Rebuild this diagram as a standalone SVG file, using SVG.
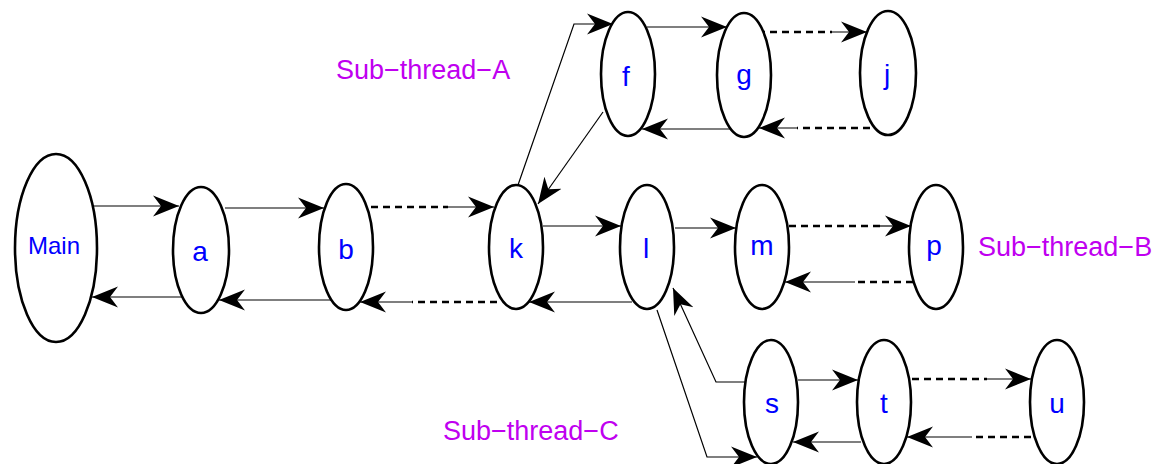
<svg xmlns="http://www.w3.org/2000/svg" width="1156" height="464" viewBox="0 0 1156 464">
  <style>
    .node ellipse { fill: #ffffff; stroke: #000000; stroke-width: 2.6; }
    .node text { font-family: "Liberation Sans", Arial, sans-serif; font-size: 28px; fill: #0000ff; text-anchor: middle; }
    .label { font-family: "Liberation Sans", Arial, sans-serif; font-size: 27px; fill: #c000f0; }
    .tail { fill: none; stroke: #000000; stroke-width: 1.2; marker-end: url(#head); }
    .dash { fill: none; stroke: #000000; stroke-width: 2.5; stroke-dasharray: 7 5; }
  </style>
  <defs>
    <!-- filled, indented arrowhead shared by every connector -->
    <marker id="head" markerUnits="userSpaceOnUse" viewBox="0 -11 27 22" refX="26" refY="0" markerWidth="27" markerHeight="22" orient="auto">
      <path d="M0,-10.5 L26,0 L0,10.5 L8,0 Z" fill="#000000"/>
    </marker>
  </defs>

  <rect width="1156" height="464" fill="#ffffff"/>

  <!-- connectors -->
  <g id="connectors">
    <!-- main thread -->
    <path class="tail" d="M93,206 H179"/>
    <path class="tail" d="M183,297 H92"/>
    <path class="tail" d="M225,208 H324"/>
    <path class="tail" d="M333,300 H219"/>
    <path class="dash" d="M371,207 H448"/>
    <path class="tail" d="M448,207 H494"/>
    <path class="dash" d="M497,302 H412"/>
    <path class="tail" d="M412,302 H360"/>
    <path class="tail" d="M543,226 H621"/>
    <path class="tail" d="M632,302 H529"/>
    <!-- sub-thread A -->
    <path class="tail" d="M518,185 L574,24 H613"/>
    <path class="tail" d="M603,112 L538,204"/>
    <path class="tail" d="M647,27 H727"/>
    <path class="tail" d="M733,129 H642"/>
    <path class="dash" d="M758,32 H832"/>
    <path class="tail" d="M832,32 H867"/>
    <path class="dash" d="M870,128 H797"/>
    <path class="tail" d="M797,128 H759"/>
    <!-- sub-thread B -->
    <path class="tail" d="M675,228 H736"/>
    <path class="dash" d="M789,226 H880"/>
    <path class="tail" d="M880,226 H911"/>
    <path class="dash" d="M913,282 H855"/>
    <path class="tail" d="M855,282 H785"/>
    <!-- sub-thread C -->
    <path class="tail" d="M745,382 H716 L673,288"/>
    <path class="tail" d="M657,310 L707,457 H757"/>
    <path class="tail" d="M798,380 H858"/>
    <path class="tail" d="M861,442 H793"/>
    <path class="dash" d="M912,379 H987"/>
    <path class="tail" d="M987,379 H1031"/>
    <path class="dash" d="M1031,437 H972"/>
    <path class="tail" d="M972,437 H907"/>
  </g>

  <!-- nodes -->
  <g id="node-main" class="node">
    <ellipse cx="56" cy="248" rx="41" ry="94"/>
    <text x="54" y="254" style="font-size:24px">Main</text>
  </g>
  <g id="node-a" class="node">
    <ellipse cx="201" cy="250" rx="28" ry="63"/>
    <text x="200" y="261">a</text>
  </g>
  <g id="node-b" class="node">
    <ellipse cx="346" cy="247" rx="27" ry="63"/>
    <text x="346" y="259">b</text>
  </g>
  <g id="node-k" class="node">
    <ellipse cx="516" cy="247" rx="27" ry="62"/>
    <text x="516" y="258">k</text>
  </g>
  <g id="node-l" class="node">
    <ellipse cx="647" cy="247" rx="27" ry="62"/>
    <text x="646" y="258">l</text>
  </g>
  <g id="node-f" class="node">
    <ellipse cx="628" cy="74" rx="27" ry="62"/>
    <text x="626" y="86">f</text>
  </g>
  <g id="node-g" class="node">
    <ellipse cx="744" cy="75" rx="27" ry="62"/>
    <text x="744" y="84">g</text>
  </g>
  <g id="node-j" class="node">
    <ellipse cx="888" cy="73" rx="28" ry="62"/>
    <text x="887" y="84">j</text>
  </g>
  <g id="node-m" class="node">
    <ellipse cx="762" cy="247" rx="27" ry="62"/>
    <text x="762" y="255">m</text>
  </g>
  <g id="node-p" class="node">
    <ellipse cx="936" cy="247" rx="27" ry="62"/>
    <text x="934" y="255">p</text>
  </g>
  <g id="node-s" class="node">
    <ellipse cx="771" cy="402" rx="27" ry="62"/>
    <text x="772" y="413">s</text>
  </g>
  <g id="node-t" class="node">
    <ellipse cx="884" cy="402" rx="27" ry="62"/>
    <text x="884" y="413">t</text>
  </g>
  <g id="node-u" class="node">
    <ellipse cx="1057" cy="402" rx="27" ry="62"/>
    <text x="1057" y="413">u</text>
  </g>

  <!-- thread labels -->
  <g id="labels">
    <text class="label" x="336" y="79">Sub−thread−A</text>
    <text class="label" x="978" y="256">Sub−thread−B</text>
    <text class="label" x="443" y="440">Sub−thread−C</text>
  </g>
</svg>
